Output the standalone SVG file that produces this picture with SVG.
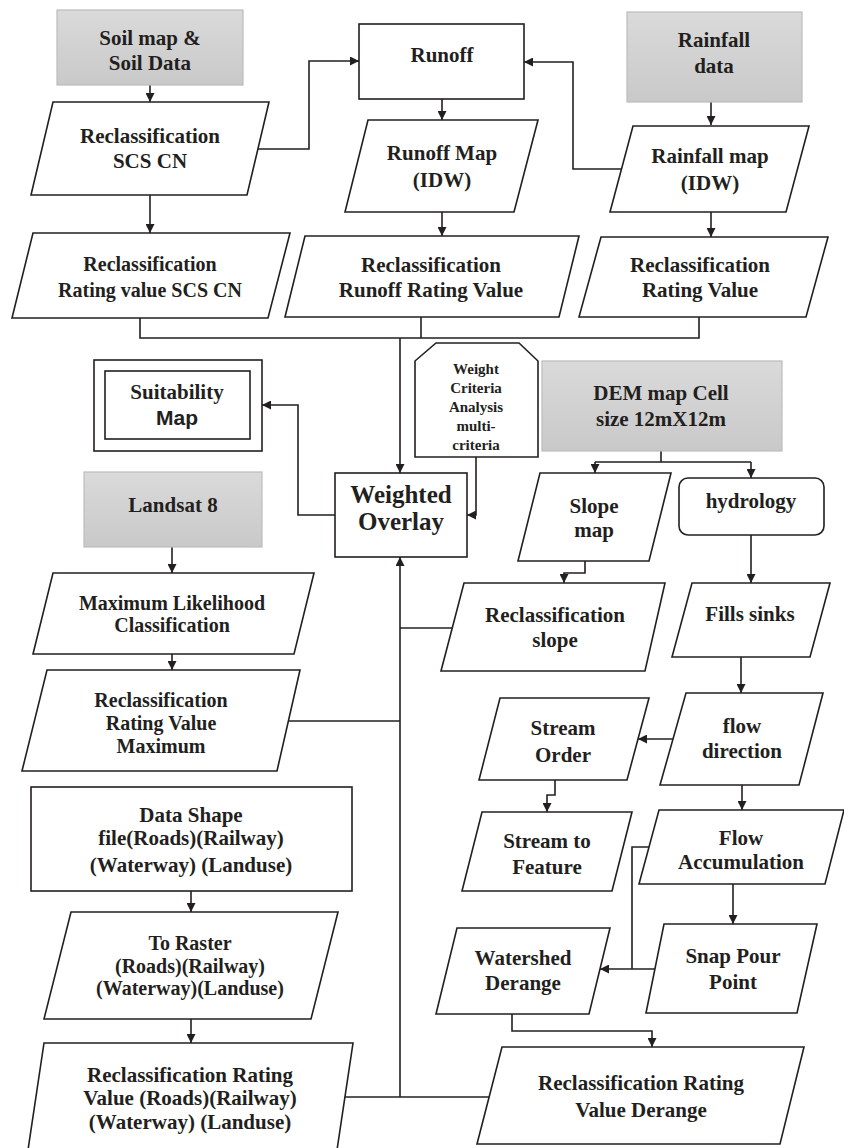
<svg xmlns="http://www.w3.org/2000/svg" width="844" height="1148" viewBox="0 0 844 1148">
<defs>
<linearGradient id="gray" x1="0" y1="0" x2="0" y2="1">
<stop offset="0" stop-color="#dadada"/>
<stop offset="1" stop-color="#c9c9c9"/>
</linearGradient>
<marker id="ah" markerUnits="userSpaceOnUse" markerWidth="9" markerHeight="9" refX="9" refY="4.5" orient="auto">
<path d="M0,0 L9,4.5 L0,9 z" fill="#231f20"/>
</marker>
</defs>
<style>
.sh{fill:#fff;stroke:#231f20;stroke-width:1.6}
.gb{fill:url(#gray);stroke:#bcbcbc;stroke-width:1.2}
.t{font-family:"Liberation Serif","Times New Roman",serif;font-weight:bold;font-size:21px;fill:#231f20;text-anchor:middle}
.s{font-size:20px}
.c{stroke:#231f20;stroke-width:1.6;fill:none}
.a{marker-end:url(#ah)}
</style>
<rect width="844" height="1148" fill="#fff"/>

<g id="connectors">
<path class="c a" d="M150,85 V102"/>
<path class="c a" d="M258,149 H309 V61 H359"/>
<path class="c a" d="M150,195 V233"/>
<path class="c a" d="M442,99 V120"/>
<path class="c a" d="M442,212 V236"/>
<path class="c a" d="M711,102 V125"/>
<path class="c a" d="M621,169 H573 V62 H524"/>
<path class="c a" d="M711,212 V237"/>
<path class="c" d="M140,318 V338 H699 V317"/>
<path class="c" d="M421,317 V338"/>
<path class="c a" d="M400,338 V473"/>
<path class="c a" d="M335,515 H298 V405 H262"/>
<path class="c a" d="M476,457 V515 H467"/>
<path class="c a" d="M172,547 V573"/>
<path class="c a" d="M172,654 V670"/>
<path class="c" d="M288,721 H400"/>
<path class="c a" d="M400,1097 V557"/>
<path class="c" d="M345,1097 H489"/>
<path class="c" d="M452,628 H400"/>
<path class="c a" d="M191,891 V912"/>
<path class="c a" d="M191,1019 V1043"/>
<path class="c" d="M661,451 V462 M595,462 H751"/>
<path class="c a" d="M595,462 V473"/>
<path class="c a" d="M751,462 V478"/>
<path class="c a" d="M585,561 V573 H564 V583"/>
<path class="c a" d="M751,535 V583"/>
<path class="c a" d="M741,657 V693"/>
<path class="c a" d="M673,739 H638"/>
<path class="c a" d="M555,780 V795 H547 V812"/>
<path class="c a" d="M742,785 V810"/>
<path class="c" d="M649,847 H632 V969"/>
<path class="c a" d="M655,969 H600"/>
<path class="c a" d="M733,884 V924"/>
<path class="c a" d="M512,1014 V1031 H652 V1047"/>
</g>

<g id="soil">
<rect class="gb" x="57" y="10" width="186" height="75"/>
<text class="t" x="150" y="45">Soil map &amp;</text>
<text class="t" x="150" y="70">Soil Data</text>
</g>
<g id="scs">
<polygon class="sh" points="53,102 269,102 247,195 31,195"/>
<text class="t" x="150" y="143">Reclassification</text>
<text class="t" x="150" y="168">SCS CN</text>
</g>
<g id="scs-rating">
<polygon class="sh" points="33,233 290,233 268,318 12,318"/>
<text class="t s" x="150" y="271">Reclassification</text>
<text class="t s" x="150" y="297">Rating value SCS CN</text>
</g>
<g id="runoff">
<rect class="sh" x="359" y="24" width="165" height="75"/>
<text class="t" x="442" y="62">Runoff</text>
</g>
<g id="runoff-map">
<polygon class="sh" points="368,120 538,120 514,212 345,212"/>
<text class="t" x="442" y="160">Runoff Map</text>
<text class="t" x="442" y="187">(IDW)</text>
</g>
<g id="runoff-rating">
<polygon class="sh" points="305,236 579,236 559,317 285,317"/>
<text class="t" x="431" y="272">Reclassification</text>
<text class="t" x="431" y="297">Runoff Rating Value</text>
</g>
<g id="rainfall">
<rect class="gb" x="627" y="12" width="175" height="90"/>
<text class="t" x="714" y="47">Rainfall</text>
<text class="t" x="714" y="73">data</text>
</g>
<g id="rainfall-map">
<polygon class="sh" points="633,126 809,126 786,212 610,212"/>
<text class="t" x="710" y="163">Rainfall map</text>
<text class="t" x="710" y="190">(IDW)</text>
</g>
<g id="rainfall-rating">
<polygon class="sh" points="601,237 828,237 806,317 579,317"/>
<text class="t" x="700" y="272">Reclassification</text>
<text class="t" x="700" y="297">Rating Value</text>
</g>
<g id="suitability">
<rect class="sh" x="94" y="360" width="168" height="91"/>
<rect class="sh" x="105" y="371" width="145" height="68"/>
<text class="t" x="177" y="399">Suitability</text>
<text class="t" x="177" y="425" style="font-family:'Liberation Sans',Arial,sans-serif">Map</text>
</g>
<g id="criteria">
<polygon class="sh" points="436,343 519,343 538,361 538,457 415,457 415,361"/>
<text class="t" x="476" y="374" style="font-size:15px">Weight</text>
<text class="t" x="476" y="393" style="font-size:15px">Criteria</text>
<text class="t" x="476" y="412" style="font-size:15px">Analysis</text>
<text class="t" x="476" y="431" style="font-size:15px">multi-</text>
<text class="t" x="476" y="450" style="font-size:15px">criteria</text>
</g>
<g id="dem">
<rect class="gb" x="542" y="361" width="240" height="90"/>
<text class="t" x="661" y="400">DEM map Cell</text>
<text class="t" x="661" y="426">size 12mX12m</text>
</g>
<g id="weighted">
<rect class="sh" x="335" y="473" width="132" height="84"/>
<text class="t" x="401" y="503" style="font-size:25px">Weighted</text>
<text class="t" x="401" y="530" style="font-size:25px">Overlay</text>
</g>
<g id="landsat">
<rect class="gb" x="84" y="472" width="178" height="75"/>
<text class="t" x="173" y="512">Landsat 8</text>
</g>
<g id="slope">
<polygon class="sh" points="540,473 671,473 649,561 518,561"/>
<text class="t" x="594" y="513">Slope</text>
<text class="t" x="594" y="537">map</text>
</g>
<g id="hydrology">
<rect class="sh" x="679" y="478" width="145" height="57" rx="9"/>
<text class="t" x="751" y="508">hydrology</text>
</g>
<g id="maxlik">
<polygon class="sh" points="53,573 314,573 294,654 33,654"/>
<text class="t s" x="172" y="610">Maximum Likelihood</text>
<text class="t s" x="172" y="632">Classification</text>
</g>
<g id="maxlik-rating">
<polygon class="sh" points="47,670 300,670 277,771 22,771"/>
<text class="t s" x="161" y="707">Reclassification</text>
<text class="t s" x="161" y="730">Rating Value</text>
<text class="t s" x="161" y="753">Maximum</text>
</g>
<g id="reclass-slope">
<polygon class="sh" points="464,583 665,583 645,671 441,671"/>
<text class="t" x="555" y="622">Reclassification</text>
<text class="t" x="555" y="647">slope</text>
</g>
<g id="fills">
<polygon class="sh" points="692,583 830,583 810,657 672,657"/>
<text class="t" x="750" y="621">Fills sinks</text>
</g>
<g id="flowdir">
<polygon class="sh" points="686,693 823,693 799,785 660,785"/>
<text class="t" x="742" y="733">flow</text>
<text class="t" x="742" y="758">direction</text>
</g>
<g id="streamorder">
<polygon class="sh" points="500,698 649,698 627,780 479,780"/>
<text class="t" x="563" y="735">Stream</text>
<text class="t" x="563" y="762">Order</text>
</g>
<g id="datashape">
<rect class="sh" x="31" y="787" width="321" height="104"/>
<text class="t" x="191" y="822">Data Shape</text>
<text class="t" x="191" y="845">file(Roads)(Railway)</text>
<text class="t" x="191" y="872">(Waterway) (Landuse)</text>
</g>
<g id="streamfeature">
<polygon class="sh" points="482,812 632,812 612,891 462,891"/>
<text class="t" x="547" y="848">Stream to</text>
<text class="t" x="547" y="874">Feature</text>
</g>
<g id="flowacc">
<polygon class="sh" points="659,810 844,810 825,884 639,884"/>
<text class="t" x="741" y="845">Flow</text>
<text class="t" x="741" y="869">Accumulation</text>
</g>
<g id="toraster">
<polygon class="sh" points="71,912 338,912 311,1019 44,1019"/>
<text class="t s" x="190" y="950">To Raster</text>
<text class="t s" x="190" y="973">(Roads)(Railway)</text>
<text class="t s" x="190" y="995">(Waterway)(Landuse)</text>
</g>
<g id="watershed">
<polygon class="sh" points="457,928 610,928 589,1014 436,1014"/>
<text class="t" x="523" y="965">Watershed</text>
<text class="t" x="523" y="990">Derange</text>
</g>
<g id="snap">
<polygon class="sh" points="664,924 817,924 797,1013 646,1013"/>
<text class="t" x="733" y="963">Snap Pour</text>
<text class="t" x="733" y="989">Point</text>
</g>
<g id="roads-rating">
<polygon class="sh" points="44,1043 353,1043 337,1150 28,1150"/>
<text class="t" x="190" y="1082">Reclassification Rating</text>
<text class="t" x="190" y="1105">Value (Roads)(Railway)</text>
<text class="t" x="190" y="1129">(Waterway) (Landuse)</text>
</g>
<g id="derange-rating">
<polygon class="sh" points="502,1047 804,1047 780,1144 477,1144"/>
<text class="t" x="641" y="1090">Reclassification Rating</text>
<text class="t" x="641" y="1117">Value Derange</text>
</g>
</svg>
